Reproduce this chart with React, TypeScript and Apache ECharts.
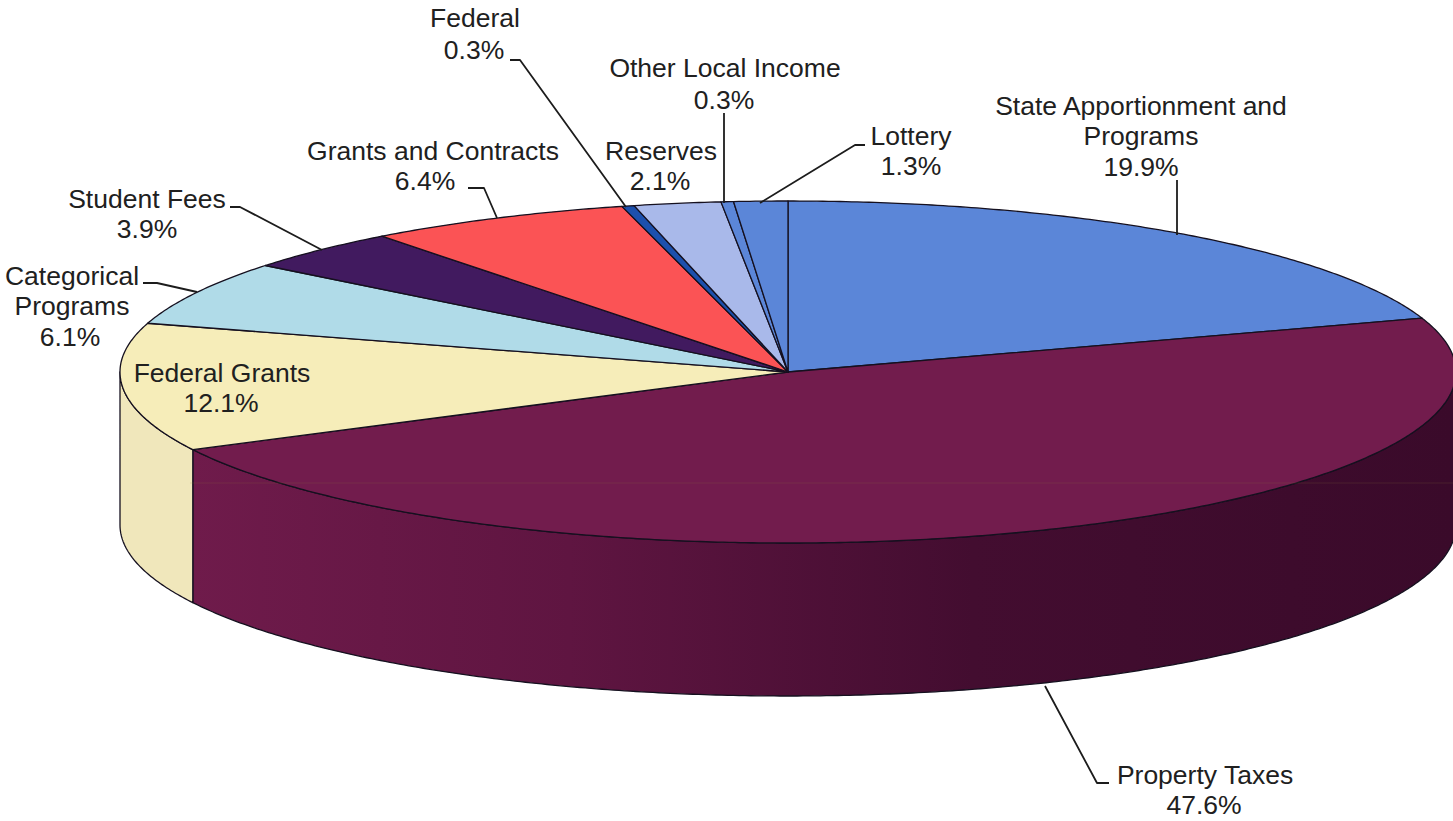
import React, { useEffect, useRef } from "react";
import * as echarts from "echarts";

const categories = [
  "State Apportionment and Programs",
  "Property Taxes",
  "Federal Grants",
  "Categorical Programs",
  "Student Fees",
  "Grants and Contracts",
  "Federal",
  "Reserves",
  "Other Local Income",
  "Lottery",
];
const shares = [19.9, 47.6, 12.1, 6.1, 3.9, 6.4, 0.3, 2.1, 0.3, 1.3];

const palette = [
  "#5b86d8", "#721c4d", "#f6edb9", "#b0dbe8", "#411a5f",
  "#fb5355", "#1c50ad", "#a9b9ea", "#5b86d8", "#5b86d8",
];

const FONT = '"Liberation Sans", Arial, sans-serif';
const CX = 788, CY = 372, RX = 668, RY = 171, DEPTH = 153;
const total = shares.reduce((a, b) => a + b, 0);

function ptOf(deg: number, dy = 0): number[] {
  const r = (deg * Math.PI) / 180;
  return [CX + RX * Math.sin(r), CY - RY * Math.cos(r) + dy];
}
function arc(a: number, b: number, dy = 0): number[][] {
  const n = Math.max(2, Math.ceil(Math.abs(b - a) * 2));
  const out: number[][] = [];
  for (let i = 0; i <= n; i++) out.push(ptOf(a + ((b - a) * i) / n, dy));
  return out;
}
function range(i: number): [number, number] {
  const before = shares.slice(0, i).reduce((a, b) => a + b, 0);
  return [(before / total) * 360, ((before + shares[i]) / total) * 360];
}

const EDGE = "#15101f";

function renderTop(params: any) {
  const [a, b] = range(params.dataIndex);
  return {
    type: "polygon",
    shape: { points: [[CX, CY], ...arc(a, b)] },
    style: { fill: palette[params.dataIndex], stroke: EDGE, lineWidth: 1.3, lineJoin: "round" },
  };
}

const sideFill: Record<number, any> = {
  1: {
    type: "linear", x: 190, y: 0, x2: 1453, y2: 0, global: true,
    colorStops: [
      { offset: 0, color: "#6f1b4b" },
      { offset: 0.3, color: "#5f1541" },
      { offset: 0.62, color: "#430d30" },
      { offset: 1, color: "#3a0a2a" },
    ],
  },
  2: "#f0e7bb",
};

function renderSide(params: any) {
  const [a0, b0] = range(params.dataIndex);
  const a = Math.max(a0, 90), b = Math.min(b0, 270);
  if (b <= a) return { type: "group", children: [] };
  return {
    type: "polygon",
    shape: { points: [...arc(a, b), ...arc(b, a, DEPTH)] },
    style: { fill: sideFill[params.dataIndex] ?? palette[params.dataIndex], stroke: EDGE, lineWidth: 1.3, lineJoin: "round" },
  };
}

const labelLines: [string, number, number][] = [
  ["Federal", 475, 18], ["0.3%", 474, 50],
  ["Other Local Income", 725, 68], ["0.3%", 724, 100],
  ["Reserves", 661, 151], ["2.1%", 660, 181],
  ["Lottery", 911, 136], ["1.3%", 911, 166],
  ["State Apportionment and", 1141, 106], ["Programs", 1141, 136], ["19.9%", 1141, 167],
  ["Grants and Contracts", 433, 151], ["6.4%", 425, 181],
  ["Student Fees", 147, 199], ["3.9%", 147, 229],
  ["Categorical", 72, 276], ["Programs", 72, 306], ["6.1%", 70, 337],
  ["Federal Grants", 222, 373], ["12.1%", 221, 403],
  ["Property Taxes", 1205, 775], ["47.6%", 1204, 805],
];

const leaders: number[][][] = [
  [[510, 60], [520, 60], [626, 207]],
  [[724, 113], [724, 203]],
  [[865, 145], [855, 145], [760, 203]],
  [[1177, 180], [1177, 235]],
  [[1109, 783], [1097, 783], [1045, 686]],
  [[468, 188], [484, 188], [497, 218]],
  [[230, 207], [240, 207], [322, 250]],
  [[143, 283], [157, 283], [197, 292]],
];

export default function App() {
  const ref = useRef<HTMLDivElement>(null);
  useEffect(() => {
    document.body.style.margin = "0";
    const chart = echarts.init(ref.current!, undefined, { renderer: "svg" });
    const data = categories.map((name, i) => ({ name, value: shares[i] }));
    chart.setOption({
      animation: false,
      backgroundColor: "#ffffff",
      series: [
        { type: "custom", coordinateSystem: "none", z: 1, silent: true, clip: false, data, renderItem: renderSide },
        { type: "custom", coordinateSystem: "none", z: 2, silent: true, clip: false, data, renderItem: renderTop },
      ],
      graphic: [
        ...leaders.map((points) => ({
          type: "polyline",
          z: 5,
          shape: { points },
          style: { stroke: "#1c1c1c", lineWidth: 1.8, fill: "none", lineJoin: "round" },
        })),
        {
          type: "line",
          z: 4,
          shape: { x1: 190, y1: 483, x2: 1453, y2: 483 },
          style: { stroke: "rgba(150,120,60,0.18)", lineWidth: 1 },
        },
        ...labelLines.map(([text, x, y]) => ({
          type: "text",
          z: 6,
          x,
          y,
          style: {
            text,
            fill: "#202020",
            font: `26.5px ${FONT}`,
            textAlign: "center",
            textVerticalAlign: "middle",
          },
        })),
      ],
    });
    return () => chart.dispose();
  }, []);
  return <div ref={ref} style={{ position: "fixed", left: 0, top: 0, width: 1453, height: 821 }} />;
}
